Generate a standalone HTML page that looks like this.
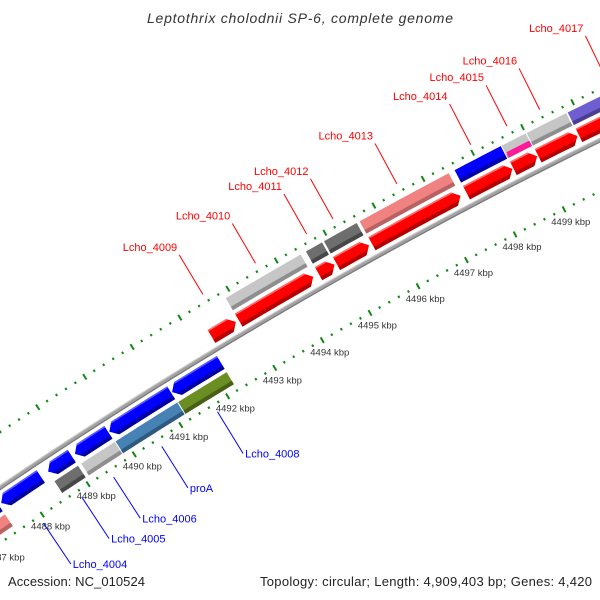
<!DOCTYPE html>
<html><head><meta charset="utf-8"><style>
html,body{margin:0;padding:0;background:#fff;}
svg{display:block;font-family:"Liberation Sans",sans-serif;}
</style></head><body>
<svg id="map" width="600" height="600" viewBox="0 0 600 600" xmlns="http://www.w3.org/2000/svg">
<rect width="600" height="600" fill="#fff"/>
<g id="layer"></g>
<text x="300" y="23" text-anchor="middle" font-size="14" font-style="italic" fill="#333" textLength="306">Leptothrix cholodnii SP-6, complete genome</text>
<text x="8" y="586" font-size="13" fill="#222" textLength="137">Accession: NC_010524</text>
<text x="592" y="586" text-anchor="end" font-size="13" fill="#222" textLength="332">Topology: circular; Length: 4,909,403 bp; Genes: 4,420</text>
</svg>
<script>
// gene data (kbp)
const geneNames  = ["Lcho_4003","Lcho_4004","Lcho_4005","Lcho_4006","proA","Lcho_4008","Lcho_4009","Lcho_4010","Lcho_4011","Lcho_4012","Lcho_4013","Lcho_4014","Lcho_4015","Lcho_4016","Lcho_4017"];
const geneStarts = [4485.9,4487.5,4488.52,4489.10,4489.84,4491.18,4492.31,4492.88,4494.54,4494.91,4495.64,4497.57,4498.52,4499.02,4499.84];
const geneEnds   = [4487.44,4488.36,4489.03,4489.82,4491.16,4492.21,4492.82,4494.43,4494.87,4495.58,4497.45,4498.50,4499.00,4499.81,4501.6];
const geneStrand = [-1,-1,-1,-1,-1,-1,1,1,1,1,1,1,1,1,1];
const geneCog    = ["salmon","","darkgray","lightgray","steelblue","olive","","lightgray","darkgray","darkgray","salmon","blue","lightgray","lightgray","purple"];
const geneCog2   = ["","","","","","","","","","","","","magenta","",""];
const geneLabeled= [false,true,true,true,true,true,true,true,true,true,true,true,true,true,true];
const tickKbp    = [4486,4487,4488,4489,4490,4491,4492,4493,4494,4495,4496,4497,4498,4499,4500,4501];

const COLORS={salmon:["#f08282","#b86262"],darkgray:["#6e6e6e","#474747"],lightgray:["#c6c6c6","#8e8e8e"],
 steelblue:["#4682b4","#2f5a80"],olive:["#6b8e23","#475f17"],blue:["#0000ff","#0000a8"],magenta:["#ff1a9a","#b0106a"],purple:["#6e5ecf","#4a3e92"]};
const CX=2800, CY=4630, PHI0=-120.01, DPK=0.636, KB0=4494;
const NS="http://www.w3.org/2000/svg";
const layer=document.getElementById('layer');
function ang(kb){return (PHI0+DPK*(kb-KB0))*Math.PI/180;}
function pt(kb,r){const a=ang(kb);return [CX+r*Math.cos(a),CY+r*Math.sin(a)];}
function arc(k1,k2,r){const n=Math.max(2,Math.ceil(Math.abs(k2-k1)/0.1)+1);const p=[];for(let i=0;i<n;i++){p.push(pt(k1+(k2-k1)*i/(n-1),r));}return p;}
function d(pts){return "M"+pts.map(p=>p[0].toFixed(2)+","+p[1].toFixed(2)).join("L")+"Z";}
function kbPerPx(r){return 1/(r*DPK*Math.PI/180);}
function path(dstr,fill,name){const e=document.createElementNS(NS,'path');e.setAttribute('d',dstr);e.setAttribute('fill',fill);
 
 
 layer.appendChild(e);return e;}
function line(p1,p2,color,w,name){const e=document.createElementNS(NS,'line');e.setAttribute('x1',p1[0]);e.setAttribute('y1',p1[1]);e.setAttribute('x2',p2[0]);e.setAttribute('y2',p2[1]);
 e.setAttribute('stroke',color);e.setAttribute('stroke-width',w);
 
 
 layer.appendChild(e);return e;}
function text(x,y,s,size,color,anchor,name,len){const e=document.createElementNS(NS,'text');e.setAttribute('x',x);e.setAttribute('y',y);
 e.setAttribute('font-size',size);e.setAttribute('fill',color);e.setAttribute('text-anchor',anchor);e.setAttribute('dominant-baseline','central');
 if(len)e.setAttribute('textLength',len);e.textContent=s;
 
 
 layer.appendChild(e);return e;}
function polyline(pts,color,w,name){const e=document.createElementNS(NS,'path');e.setAttribute('d',"M"+pts.map(p=>p[0].toFixed(2)+","+p[1].toFixed(2)).join("L"));
 e.setAttribute('fill','none');e.setAttribute('stroke',color);e.setAttribute('stroke-width',w);
 
 
 layer.appendChild(e);return e;}

// backbone
polyline(arc(4484,4503,5000),"#a2a2a2",4.5,"backbone");
polyline(arc(4484,4503,4998.2),"#7a7a7a",1.3,"backbone-shadow");
polyline(arc(4484,4503,5001.8),"#cfcfcf",1,"backbone-highlight");

// ticks
function ticks(r,ring){
 for(let k=4485;k<=4502.001;k+=0.2){
  const kb=Math.round(k*10)/10;
  const major=Math.abs(kb-Math.round(kb))<0.01;
  const h=major?3.2:1.2;
  line(pt(kb,r-h),pt(kb,r+h),"#118811",major?2:2,ring+(major?"-major-tick":"-minor-tick"));
 }
}
ticks(5046,"outer");
ticks(4954,"inner");
tickKbp.forEach(k=>{const p=pt(k,4939);text(p[0].toFixed(1),p[1].toFixed(1),k+" kbp",9.5,"#333","middle","tick-label-"+k);});

// genes
function box(s,e,rIn,rOut,col,name){
 const c=COLORS[col];
 path(d(arc(s,e,rOut).concat(arc(e,s,rIn))),c[0],name);
 path(d(arc(s,e,rIn+4).concat(arc(e,s,rIn))),c[1],name+"-shade");
}
function arrow(s,e,strand,rIn,rOut,fill,dark,light,name){
 const rMid=(rIn+rOut)/2, h=Math.min(7*kbPerPx(rMid),(e-s)*0.8);
 let body;
 if(strand>0){body=arc(s,e-h,rOut).concat([pt(e,rMid)]).concat(arc(e-h,s,rIn));}
 else{body=[pt(s,rMid)].concat(arc(s+h,e,rOut)).concat(arc(e,s+h,rIn));}
 path(d(body),fill,name);
 const t=4/(rMid-rIn);
 let strip;
 if(strand>0){strip=arc(s,e-h,rIn).concat([pt(e-h+t*h,rIn+4)]).concat(arc(e-h,s,rIn+4));}
 else{strip=[pt(s+h-t*h,rIn+4)].concat(arc(s+h,e,rIn+4)).concat(arc(e,s+h,rIn));}
 path(d(strip),dark,name+"-shade");
 let hl;
 const t2=1.6/(rOut-rMid);
 if(strand>0){hl=arc(s,e-h,rOut).concat([pt(e-h+t2*h,rOut-1.6)]).concat(arc(e-h,s,rOut-1.6));}
 else{hl=[pt(s+h-t2*h,rOut-1.6)].concat(arc(s+h,e,rOut)).concat(arc(e,s+h,rOut-1.6));}
 path(d(hl),light,name+"-highlight");
}
for(let i=0;i<geneNames.length;i++){
 const s=geneStarts[i],e=geneEnds[i],st=geneStrand[i],nm=geneNames[i].toLowerCase().replace('_','-');
 if(st>0){arrow(s,e,1,5006,5021,"#ff0000","#b40000","#ff6a6a","gene-"+nm);}
 else{arrow(s,e,-1,4979,4994,"#0000ff","#0000a0","#5a5aff","gene-"+nm);}
 if(geneCog[i]){
  if(st>0)box(s,e,5025,5039,geneCog[i],"cog-"+nm); else box(s,e,4961,4975,geneCog[i],"cog-"+nm);
 }
 if(geneCog2[i]){
  const c=COLORS[geneCog2[i]];
  path(d(arc(s+0.02,e,5031).concat(arc(e,s+0.02,5025))),c[0],"cog2-"+nm);
 }
 if(geneLabeled[i]){
  const m=(s+e)/2;
  if(st>0){const a=pt(m,5054),b=pt(m,5100);line(a,b,"#ff0000",1,"leader-"+nm);
   text((b[0]-2).toFixed(1),(b[1]-7).toFixed(1),geneNames[i],11,"#ff0000","end","label-"+nm);}
  else{const a=pt(m,4946),b=pt(m,4897);line(a,b,"#0000ff",1,"leader-"+nm);
   text((b[0]+2).toFixed(1),(b[1]+1).toFixed(1),geneNames[i],11,"#0000ff","start","label-"+nm);}
 }
}
</script>
</body></html>
